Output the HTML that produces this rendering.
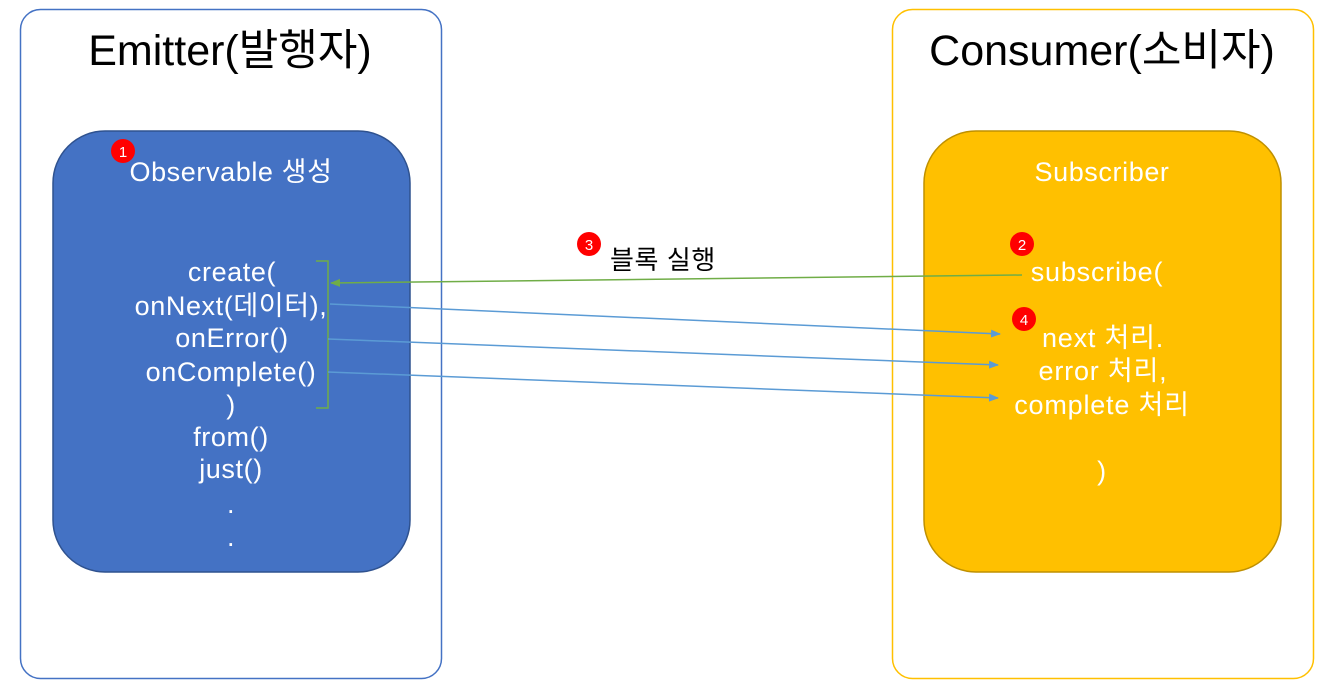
<!DOCTYPE html>
<html><head><meta charset="utf-8"><style>
html,body{margin:0;padding:0;background:#fff;}
svg{display:block;font-family:"Liberation Sans","Noto Sans CJK KR",sans-serif;}
</style></head><body>
<svg width="1328" height="694" viewBox="0 0 1328 694">
<defs>
<marker id="ab" markerWidth="10" markerHeight="10" refX="9" refY="5" orient="auto" markerUnits="userSpaceOnUse"><path d="M0,1 L10,5 L0,9 Z" fill="#5b9bd5"/></marker>
<marker id="ag" markerWidth="10" markerHeight="10" refX="9" refY="5" orient="auto" markerUnits="userSpaceOnUse"><path d="M0,1 L10,5 L0,9 Z" fill="#70ad47"/></marker>
</defs>
<g>
<rect x="20.5" y="9.5" width="421" height="669" rx="20" fill="#fff" stroke="#4472c4" stroke-width="1.5"/>
<text x="230" y="65" font-size="43" text-anchor="middle" fill="#000">Emitter(발행자)</text>
<rect x="53" y="131" width="357" height="441" rx="52" fill="#4472c4" stroke="#2f528f" stroke-width="1.5"/>
<text x="231" y="181" font-size="27" letter-spacing="0.6" text-anchor="middle" fill="#fff">Observable 생성</text>
<g font-size="27" letter-spacing="0.6" fill="#fff" text-anchor="middle">
<text x="232" y="281">create(</text>
<text x="231" y="315">onNext(데이터),</text>
<text x="232" y="347">onError()</text>
<text x="231" y="381">onComplete()</text>
<text x="231" y="414">)</text>
<text x="231" y="446">from()</text>
<text x="231" y="478">just()</text>
<text x="231" y="513">.</text>
<text x="231" y="546">.</text>
</g>
<path d="M316,261 H328 V408 H316" fill="none" stroke="#70ad47" stroke-width="1.5"/>
</g>
<g>
<rect x="892.5" y="9.5" width="421" height="669" rx="20" fill="#fff" stroke="#ffc000" stroke-width="1.5"/>
<text x="1102" y="65" font-size="43" text-anchor="middle" fill="#000">Consumer(소비자)</text>
<rect x="924" y="131" width="357" height="441" rx="52" fill="#ffc000" stroke="#bf9000" stroke-width="1.5"/>
<text x="1102" y="181" font-size="27" letter-spacing="0.6" text-anchor="middle" fill="#fff">Subscriber</text>
<g font-size="27" letter-spacing="0.8" fill="#fff" text-anchor="middle">
<text x="1097" y="281">subscribe(</text>
<text x="1103" y="347">next 처리.</text>
<text x="1103" y="380">error 처리,</text>
<text x="1102" y="414">complete 처리</text>
<text x="1102" y="480">)</text>
</g>
</g>
<line x1="1022" y1="275" x2="331" y2="283" stroke="#70ad47" stroke-width="1.5" marker-end="url(#ag)"/>
<line x1="330" y1="304" x2="1000" y2="334" stroke="#5b9bd5" stroke-width="1.5" marker-end="url(#ab)"/>
<line x1="328" y1="339" x2="998" y2="365" stroke="#5b9bd5" stroke-width="1.5" marker-end="url(#ab)"/>
<line x1="328" y1="372" x2="998" y2="398" stroke="#5b9bd5" stroke-width="1.5" marker-end="url(#ab)"/>
<text x="610" y="269" font-size="26" letter-spacing="0.6" fill="#000">블록 실행</text>
<g font-size="15" fill="#fff" text-anchor="middle">
<circle cx="123" cy="151" r="12" fill="#ff0000"/><text x="123" y="157">1</text>
<circle cx="1022" cy="244" r="12" fill="#ff0000"/><text x="1022" y="250">2</text>
<circle cx="589" cy="244" r="12" fill="#ff0000"/><text x="589" y="250">3</text>
<circle cx="1024" cy="319" r="12" fill="#ff0000"/><text x="1024" y="325">4</text>
</g>
</svg>
</body></html>
